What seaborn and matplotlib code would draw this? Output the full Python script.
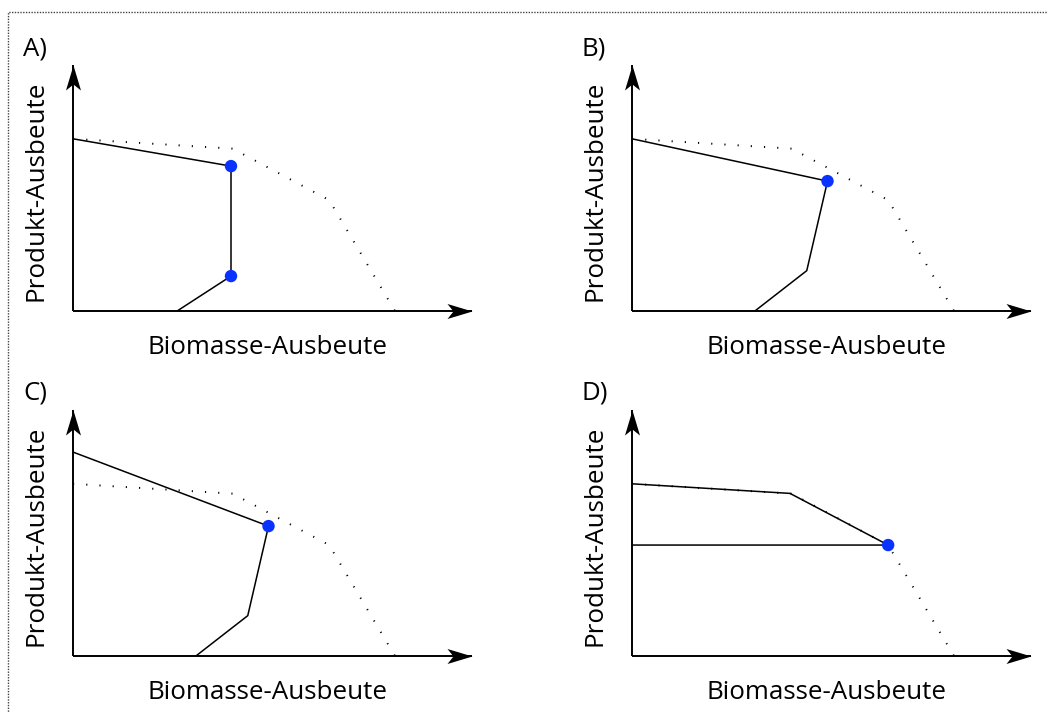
import numpy as np
import matplotlib
matplotlib.use("Agg")
import matplotlib.pyplot as plt
from matplotlib.path import Path
from matplotlib.patches import Rectangle
import seaborn as sns

# Production envelope (same frontier in every panel), axes in relative units
frontier_x = [0.00, 0.40, 0.642, 0.807]
frontier_y = [0.70, 0.66, 0.451, 0.00]

# Solution space of each design (polyline) and its highlighted optimum points
panels = ["A)", "B)", "C)", "D)"]
space_x = {
    "A)": [0.00, 0.396, 0.396, 0.261],
    "B)": [0.00, 0.490, 0.438, 0.308],
    "C)": [0.00, 0.490, 0.438, 0.308],
    "D)": [0.00, 0.396, 0.642, 0.00],
}
space_y = {
    "A)": [0.70, 0.589, 0.142, 0.00],
    "B)": [0.70, 0.528, 0.164, 0.00],
    "C)": [0.829, 0.528, 0.164, 0.00],
    "D)": [0.70, 0.661, 0.451, 0.451],
}
opt_x = {"A)": [0.396, 0.396], "B)": [0.490], "C)": [0.490], "D)": [0.642]}
opt_y = {"A)": [0.589, 0.142], "B)": [0.528], "C)": [0.528], "D)": [0.451]}

xlabel = "Biomasse-Ausbeute"
ylabel = "Produkt-Ausbeute"

sns.set_theme(style="white")
plt.rcParams["font.family"] = ["Open Sans", "DejaVu Sans"]

W, H = 1048, 713
fig = plt.figure(figsize=(W / 100, H / 100), dpi=100)

def fx(px):
    return px / W

def fy(py):
    return 1 - py / H

# origin (px) and axis lengths for each panel
layout = {
    "A)": (73, 311),
    "B)": (632, 311),
    "C)": (73, 656),
    "D)": (632, 656),
}
ax_w, ax_h = 399, 246

# stealth-style arrowheads, tip at the marker origin
def head(direction):
    v = np.array([[0, 0], [-25, 7.5], [-19, 0], [-25, -7.5], [0, 0]], float)
    if direction == "up":
        v = v[:, ::-1]
    codes = [Path.MOVETO, Path.LINETO, Path.LINETO, Path.LINETO, Path.CLOSEPOLY]
    return Path(v, codes)

right_head = head("right")
up_head = head("up")

for name in panels:
    ox, oy = layout[name]
    ax = fig.add_axes([fx(ox), fy(oy), ax_w / W, ax_h / H])
    ax.set_xlim(0, 1)
    ax.set_ylim(0, 1)
    ax.axis("off")

    # axes with arrows
    ax.plot([0, 1], [0, 0], color="black", lw=1.4, transform=ax.transAxes,
            clip_on=False, solid_capstyle="butt")
    ax.plot([0, 0], [0, 1], color="black", lw=1.4, transform=ax.transAxes,
            clip_on=False, solid_capstyle="butt")
    ax.plot([1], [0], marker=right_head, ms=36, color="black", mew=0,
            transform=ax.transAxes, clip_on=False)
    ax.plot([0], [1], marker=up_head, ms=36, color="black", mew=0,
            transform=ax.transAxes, clip_on=False)

    # dotted frontier
    sns.lineplot(x=frontier_x, y=frontier_y, sort=False, estimator=None, ax=ax,
                 color="black", lw=1.4, linestyle=(0, (0.6, 6.2)),
                 dash_capstyle="butt")
    # solution space
    sns.lineplot(x=space_x[name], y=space_y[name], sort=False, estimator=None,
                 ax=ax, color="black", lw=1.1)
    sns.scatterplot(x=opt_x[name], y=opt_y[name], ax=ax, s=80,
                    color="#0a32ff", edgecolor="none", zorder=5, clip_on=False)

    # labels
    fig.text(fx(ox - 50), fy(oy - 256), name, fontsize=18.5, ha="left",
             va="baseline", color="black")
    fig.text(fx(ox + ax_w / 2 - 5), fy(oy + 43), xlabel, fontsize=18.7,
             ha="center", va="baseline", color="black")
    fig.text(fx(ox - 37), fy(oy - ax_h / 2 + 3), ylabel, fontsize=18.7,
             rotation=90, ha="center", va="center", color="black")

# dotted frame
fig.patches.append(Rectangle((fx(8), fy(H + 20)), (W + 20) / W, (H + 8) / H,
                             transform=fig.transFigure, fill=False,
                             edgecolor="#444444", lw=1.0,
                             linestyle=(0, (1.0, 1.0))))

fig.savefig("out.png", dpi=100)
